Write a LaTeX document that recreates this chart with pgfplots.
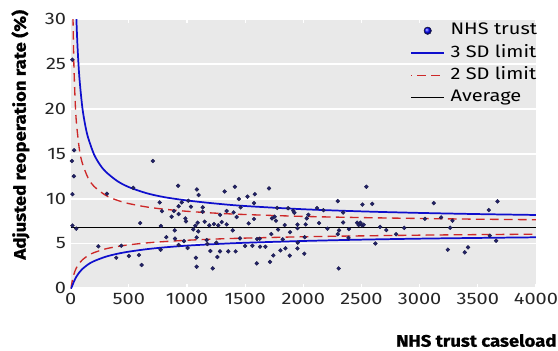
\documentclass[border=0pt]{standalone}
\usepackage{fontspec}
\setmainfont{Fira Sans}[FakeStretch=1.2]
\newfontfamily\lblbf{Fira Sans}[FakeStretch=1.11, BoldFeatures={FakeBold=0.8}]
\usepackage{pgfplots}
\pgfplotsset{compat=1.18}
\definecolor{bggray}{RGB}{233,233,233}
\definecolor{limblue}{RGB}{15,15,205}
\definecolor{limred}{RGB}{205,40,40}
\definecolor{dotnavy}{RGB}{35,35,105}
\newcommand{\lblfont}{\fontsize{12.5}{14}\selectfont}
\begin{document}
\begin{tikzpicture}
\begin{axis}[
  name=ax, scale only axis, width=349pt, height=201.75pt,
  xmin=0, xmax=4000, ymin=0, ymax=30,
  axis background/.style={fill=bggray},
  axis line style={draw=none},
  ymajorgrids, grid style={white, line width=1.3pt},
  xtick={0,500,...,4000}, ytick={0,5,...,30},
  tick align=inside, major tick length=3pt,
  xtick style={white, line width=0.8pt}, ytick style={draw=none},
  /pgf/number format/assume math mode=true,
  /pgf/number format/1000 sep={},
  tick label style={font=\lblfont, text=black!85},
  ylabel={Adjusted reoperation rate (\%)},
  ylabel style={at={(axis description cs:-0.108,0.571)}, anchor=center, font=\lblbf\bfseries\lblfont},
  xlabel={NHS trust caseload},
  xlabel style={at={(axis description cs:1.054,-0.194)}, anchor=east, font=\lblbf\bfseries\lblfont},
  legend style={at={(rel axis cs:0.729,1)}, anchor=north west, draw=none, fill=none,
    font=\lblfont, inner xsep=0pt, inner ysep=0pt, row sep=0pt,
    nodes={inner ysep=2.55pt, inner xsep=4pt, text height=9pt, text depth=2.6pt}},
  legend cell align=left,
  legend image code/.code={\draw[#1] (0pt,0pt) -- (25pt,0pt);},
]
\addlegendimage{legend image code/.code={\shade[ball color=blue] (12.5pt,0pt) circle (2.7pt); \draw[dotnavy, line width=0.4pt] (12.5pt,0pt) circle (2.7pt);}}
\addlegendentry{NHS trust}
\addlegendimage{limblue, line width=1.3pt}
\addlegendentry{3 SD limit}
\addlegendimage{limred, line width=1pt, dash pattern=on 6.5pt off 4pt, dash phase=6pt}
\addlegendentry{2 SD limit}
\addlegendimage{black, line width=0.7pt}
\addlegendentry{Average}

% average
\addplot[black, line width=0.7pt, forget plot] coordinates {(0,6.8) (4000,6.8)};
% 2 SD upper
\addplot[limred, line width=1pt, dash pattern=on 6.5pt off 4pt, forget plot, smooth] coordinates {
(15,36.5) (20,30.4) (25,26.5) (30,23.9) (40,20.5) (50,18.4) (75,15.5) (100,13.97) (150,12.30) (200,11.38) (300,10.38) (400,9.82) (500,9.45) (650,9.08) (800,8.83) (1000,8.59) (1250,8.38) (1500,8.23) (2000,8.02) (2500,7.89) (3000,7.79) (3500,7.71) (4000,7.65)};
% 2 SD lower
\addplot[limred, line width=1pt, dash pattern=on 6.5pt off 4pt, forget plot, smooth] coordinates {
(0,0) (2,0.03) (5,0.20) (10,0.58) (20,1.20) (30,1.66) (40,2.02) (50,2.30) (75,2.81) (100,3.17) (150,3.66) (200,3.98) (300,4.40) (400,4.66) (500,4.85) (650,5.06) (800,5.21) (1000,5.36) (1250,5.50) (1500,5.60) (2000,5.75) (2500,5.85) (3000,5.93) (3500,5.99) (4000,6.04)};
% 3 SD upper
\addplot[limblue, line width=1.3pt, forget plot, smooth] coordinates {
(35,37.4) (40,34.3) (50,29.8) (60,26.7) (75,23.5) (100,20.2) (125,18.2) (150,16.8) (200,14.96) (250,13.82) (300,13.02) (400,11.97) (500,11.29) (650,10.62) (800,10.18) (1000,9.8) (1250,9.45) (1500,9.18) (2000,8.82) (2500,8.58) (3000,8.41) (3500,8.28) (4000,8.18)};
% 3 SD lower
\addplot[limblue, line width=1.3pt, forget plot, smooth] coordinates {
(0,0) (2,0.00) (5,0.03) (10,0.16) (20,0.50) (30,0.81) (40,1.08) (50,1.32) (75,1.79) (100,2.15) (150,2.67) (200,3.03) (300,3.52) (400,3.85) (500,4.09) (650,4.36) (800,4.56) (1000,4.76) (1250,4.94) (1500,5.08) (2000,5.28) (2500,5.43) (3000,5.54) (3500,5.62) (4000,5.69)};
% trusts
\addplot[only marks, mark=*, mark size=1.45pt, mark options={fill=dotnavy, draw=dotnavy!70!black, line width=0.3pt}, forget plot] coordinates {
(14,25.5) (11,14.2) (30,15.4) (28,12.5) (15,10.5) (15,7.0) (48,6.65)
(238,4.68) (312,10.55) (392,3.41) (435,4.75) (500,3.6) (538,11.2) (587,3.71) (598,7.28) (610,2.6) (706,14.2)
(765,9.58) (785,8.6) (776,6.95) (773,4.3) (822,5.7) (868,7.99) (888,8.62) (895,6.46) (924,11.44) (928,9.15)
(928,8.28) (955,9.58) (897,5.55) (986,7.8) (991,7.47) (974,5.27) (1011,9.77) (928,4.83) (1005,4.5) (1034,9.1)
(1054,6.57) (1072,6.98) (1085,11.03) (1100,10.4) (1083,5.68) (1092,7.32) (1097,6.35) (1077,3.41) (1083,2.41)
(1135,9.03) (1135,8.54) (1152,7.43) (1169,5.38) (1175,4.94) (1201,4.16) (1221,2.22) (1192,7.02) (1232,7.17)
(1269,7.02) (1252,5.09) (1261,3.49) (1284,4.12) (1298,7.39) (1324,10.8) (1284,8.2) (1341,8.62) (1341,7.13)
(1355,4.12) (1393,6.46) (1401,8.47) (1412,11.33) (1418,4.12) (1427,7.95) (1446,9.96) (1456,5.57) (1461,9.03)
(1499,4.72) (1520,10.22) (1530,7.24) (1562,4.75) (1576,7.73) (1583,10.5) (1576,9.5) (1602,5.5) (1600,2.78)
(1625,5.53) (1628,4.64) (1674,4.64) (1705,11.14) (1714,2.95) (1742,3.67) (1731,7.8) (1754,7.99) (1765,7.54)
(1775,8.97) (1803,4.23) (1783,6.55) (1823,5.46) (1846,4.46) (1840,7.06) (1883,3.64) (1886,6.26) (1869,8.93)
(1914,8.64) (1923,8.43) (1949,4.45) (1952,5.1) (1950,7.1) (1950,6.7) (2020,7.13) (2008,3.86) (2029,7.8)
(2043,8.2) (2012,5.7) (1725,6.05)
(2118,8.95) (2135,7.28) (2173,8.71) (2207,6.65) (2296,9.73) (2307,6.46) (2296,6.05) (2304,2.22) (2342,8.45)
(2342,7.35) (2392,6.61) (2388,5.62) (2462,7.32) (2476,7.06) (2491,7.32) (2505,7.02) (2519,7.09) (2508,9.34)
(2542,11.33) (2592,9.42) (2619,5.0) (2660,6.85) (2713,6.5) (2797,6.03) (2867,6.74) (3045,7.75) (3121,9.51)
(3184,7.91) (3242,4.31) (3262,6.76) (3282,7.54) (3388,4.01) (3416,4.57) (3594,8.73) (3603,5.87) (3657,5.31)
(3669,9.7)};
\end{axis}
\pgfresetboundingbox
\path[use as bounding box] ([shift={(-53pt,-47pt)}]ax.south west) rectangle ([shift={(16.5pt,14.5pt)}]ax.north east);
\end{tikzpicture}
\end{document}
